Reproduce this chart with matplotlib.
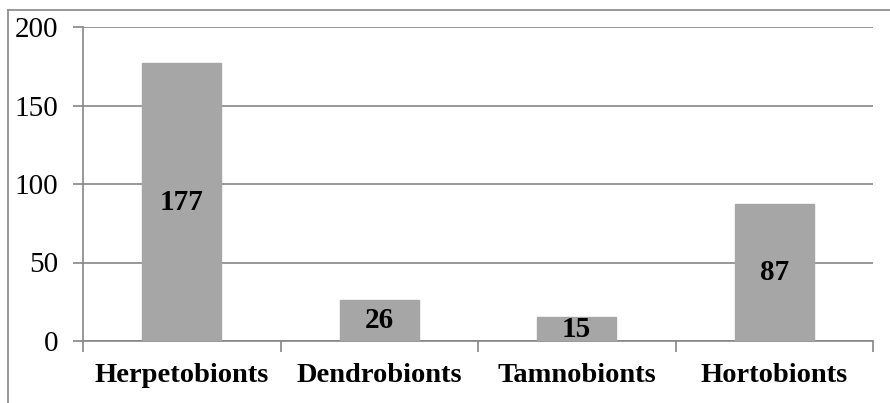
import matplotlib.pyplot as plt
from matplotlib.lines import Line2D

categories = ["Herpetobionts", "Dendrobionts", "Tamnobionts", "Hortobionts"]
values = [177, 26, 15, 87]
yticks = [0, 50, 100, 150, 200]

plt.rcParams['font.family'] = ['Liberation Serif', 'DejaVu Serif']

fig = plt.figure(figsize=(8.9, 4.03), dpi=100)
W, H = 890, 403
ax = fig.add_axes([83 / W, 1 - 341 / H, 790 / W, 314 / H])

grey = "#868686"
x = list(range(len(categories)))
ax.bar(x, values, width=0.4, color="#a6a6a6", edgecolor="#a6a6a6", zorder=3)
for xi, v in zip(x, values):
    ax.text(xi, v / 2, str(v), ha="center", va="center", fontsize=21,
            fontweight="bold", zorder=4)

ax.set_xlim(-0.5, len(categories) - 0.5)
ax.set_ylim(0, 200)
ax.set_yticks(yticks)
ax.set_yticklabels([str(t) for t in yticks], fontsize=21)
ax.yaxis.grid(True, color=grey, linewidth=1.2, zorder=0)
ax.tick_params(axis="y", length=7, width=1.2, color=grey, pad=11)

ax.set_xticks(x)
ax.set_xticklabels(categories, fontsize=20.5, fontweight="bold")
ax.tick_params(axis="x", length=0, pad=16)
ax.set_xticks([i - 0.5 for i in range(len(categories) + 1)], minor=True)
ax.tick_params(axis="x", which="minor", length=8, width=1.2, color=grey)

for s in ["top", "right"]:
    ax.spines[s].set_visible(False)
for s in ["left", "bottom"]:
    ax.spines[s].set_color(grey)
    ax.spines[s].set_linewidth(1.2)

# outer chart border (left and top visible)
fig.add_artist(Line2D([7.5 / W, 7.5 / W], [0, 1 - 10 / H], color=grey, linewidth=1.2))
fig.add_artist(Line2D([7.5 / W, 1], [1 - 10 / H, 1 - 10 / H], color=grey, linewidth=1.2))

fig.savefig("out.png", dpi=100)
